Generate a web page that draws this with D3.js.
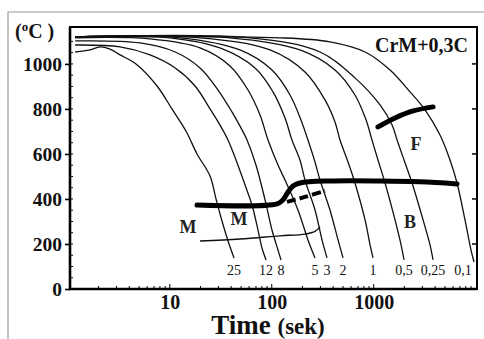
<!DOCTYPE html>
<html><head><meta charset="utf-8">
<script src="https://cdn.jsdelivr.net/npm/d3@7"></script>
<style>
html,body{margin:0;padding:0;background:#fff;}
svg{display:block;}
text{font-family:"Liberation Serif","Times New Roman",serif;}
</style></head>
<body>
<svg id="c" width="484" height="339"></svg>
<script>
// ---- data (time in s, temperature in °C) ----
const rateLabels = ["25","12","8","5","3","2","1","0,5","0,25","0,1"];
const curve25 = [[1.18,1053],[1.65,1062],[2.07,1076],[2.59,1066],[3.25,1040],[4.66,1000],[7.5,902],[10.5,800],[14.4,702],[18.5,600],[24.8,502],[28.4,400],[32.5,302],[38.1,200],[42.7,138]];
const curve12 = [[1.18,1084],[3.25,1076],[6.4,1040],[11.3,982],[17.7,902],[24.8,800],[31,729],[37.2,662],[44.6,573],[54.7,462],[64,373],[73.3,262],[80.2,182],[87.9,129]];
const curve8 = [[1.18,1102],[5.1,1093],[11.3,1053],[19.8,982],[29.7,884],[40.7,787],[51.1,707],[57.2,662],[70,551],[85.9,396],[100.5,262],[115.1,173],[123.3,129]];
const curve5 = [[1.18,1116],[6.4,1111],[19.8,1071],[38.9,991],[58.5,884],[76.7,773],[91.9,662],[115.1,551],[134.9,484],[180.7,351],[226.5,218],[265.5,138]];
const curve3 = [[1.18,1120],[10,1116],[31,1071],[68.5,982],[102.8,876],[134.9,760],[157.8,662],[189.2,573],[211.8,484],[265.5,351],[311.1,218],[348.3,138]];
const curve2 = [[1.18,1120],[12.6,1116],[48.8,1062],[100.5,973],[151,862],[193.3,751],[226.5,662],[265.5,564],[297.2,484],[372.4,351],[446.7,218],[500,138]];
const curve1 = [[1.18,1120],[19.8,1116],[96.2,1062],[211.8,964],[332.7,840],[416.9,742],[466.9,662],[560,564],[654.6,471],[822.2,307],[920.4,196],[984,138]];
const curve05 = [[1.18,1120],[38.9,1116],[189.2,1062],[416.9,973],[654.6,862],[841.4,751],[961.6,662],[1101,573],[1291,471],[1618,307],[1854,196],[1983,129]];
const curve025 = [[1.18,1120],[61.2,1116],[297.2,1053],[654.6,938],[1153,818],[1514,729],[1694,662],[1983,573],[2377,471],[3048,307],[3565,196],[3818,129]];
const curve01 = [[1.18,1120],[120.5,1116],[372.4,1098],[822.2,1053],[1445,973],[2270,876],[3186,796],[4467,684],[5598,573],[6563,471],[7853,307],[8995,173],[9638,120]];
const bainiteStart = [[18.5,373],[112.5,378],[128.9,396],[144.3,431],[161.5,458],[189.2,471],[372.4,480],[1153,480],[2844,476],[6563,467]];
const bainiteEnd = [[141,387],[211.8,409],[332.7,436]];
const martensiteLine = [[19.8,213],[48.8,222],[120.5,236],[211.8,244],[265.5,256],[297.2,276]];
const ferriteStart = [[1101,720],[1618,760],[2432,791],[3818,809]];
const yTicks = [0,200,400,600,800,1000];
const xTicks = [10,100,1000];

const curves = [curve25,curve12,curve8,curve5,curve3,curve2,curve1,curve05,curve025,curve01];

const svg = d3.select("#c");
const L=70,R=477,T=27,B=289;
const x = d3.scaleLog().domain([1.05,10300]).range([L,R]);
const y = d3.scaleLinear().domain([0,1164]).range([B,T]);

// outer gray frame
svg.append("path").attr("d","M8,339 L8,12 L484,12").attr("fill","none").attr("stroke","#9a9a9a").attr("stroke-width",1.2);

const line = d3.line().x(d=>x(d[0])).y(d=>y(d[1])).curve(d3.curveCatmullRom.alpha(0.5));

const g = svg.append("g");
curves.forEach(c=>{
  g.append("path").attr("d",line(c)).attr("fill","none").attr("stroke","#111").attr("stroke-width",1.3);
});
g.append("path").attr("d",line(martensiteLine)).attr("fill","none").attr("stroke","#111").attr("stroke-width",1.4);
g.append("path").attr("d",line(bainiteStart)).attr("fill","none").attr("stroke","#000").attr("stroke-width",5).attr("stroke-linecap","round");
g.append("path").attr("d",line(bainiteEnd)).attr("fill","none").attr("stroke","#000").attr("stroke-width",4).attr("stroke-dasharray","9,4");
g.append("path").attr("d",line(ferriteStart)).attr("fill","none").attr("stroke","#000").attr("stroke-width",5).attr("stroke-linecap","round");

// curve labels
curves.forEach((c,i)=>{
  const last=c[c.length-1];
  const px=Math.min(x(last[0]),463);
  svg.append("text").attr("x",px).attr("y",275).attr("text-anchor","middle")
    .attr("font-size",14).attr("fill","#111").text(rateLabels[i]);
});

// frame
svg.append("rect").attr("x",L).attr("y",T).attr("width",R-L).attr("height",B-T)
  .attr("fill","none").attr("stroke","#000").attr("stroke-width",2);
svg.append("path").attr("d",`M${L},${T} L${L},${B} L${R},${B}`).attr("fill","none").attr("stroke","#000").attr("stroke-width",2.6);

// y axis
const yAx = svg.append("g").attr("transform",`translate(${L},0)`)
  .call(d3.axisLeft(y).tickValues(yTicks).tickFormat(d3.format("d")).tickSize(5).tickPadding(3));
yAx.select(".domain").remove();
yAx.selectAll("line").attr("stroke-width",1.6);
yAx.selectAll("text").attr("font-size",19.5).attr("font-weight","bold").attr("font-family","Liberation Serif, serif").attr("fill","#111");
// minor inner y ticks
d3.range(50,1150,50).forEach(v=>{
  svg.append("line").attr("x1",L).attr("x2",L+3).attr("y1",y(v)).attr("y2",y(v)).attr("stroke","#000").attr("stroke-width",1);
});
// right ticks
yTicks.slice(1).forEach(v=>{
  svg.append("line").attr("x1",R).attr("x2",R-5).attr("y1",y(v)).attr("y2",y(v)).attr("stroke","#000").attr("stroke-width",1.5);
});

// x axis
const xAx = svg.append("g").attr("transform",`translate(0,${B})`)
  .call(d3.axisBottom(x).tickValues(xTicks).tickFormat(d3.format("d")).tickSize(0).tickPadding(6));
xAx.select(".domain").remove();
xAx.selectAll("text").attr("font-size",20).attr("font-weight","bold").attr("font-family","Liberation Serif, serif").attr("fill","#111");
// x ticks (inside)
[1,10,100,1000].forEach(dec=>{
  d3.range(1,10).forEach(m=>{
    const v=dec*m;
    if(v<1.05||v>10300) return;
    const len = m===1?5:3;
    svg.append("line").attr("x1",x(v)).attr("x2",x(v)).attr("y1",B).attr("y2",B-len).attr("stroke","#000").attr("stroke-width",1);
  });
});

// titles
const t1 = svg.append("text").attr("x",15).attr("y",38).attr("font-size",20).attr("font-weight","bold").attr("fill","#111");
t1.append("tspan").text("(");
t1.append("tspan").attr("font-size",13).attr("dy",-7).text("o");
t1.append("tspan").attr("dy",7).text("C )");

svg.append("text").attr("x",468).attr("y",52).attr("text-anchor","end").attr("font-size",20).attr("font-weight","bold").attr("fill","#111").text("CrM+0,3C");

const xl = svg.append("text").attr("x",268).attr("y",334).attr("text-anchor","middle").attr("font-weight","bold").attr("fill","#111");
xl.append("tspan").attr("font-size",27).text("Time ");
xl.append("tspan").attr("font-size",23).text("(sek)");

// region labels
const reg = [["M",188,233],["M",239,225],["F",416,150],["B",410,228]];
reg.forEach(r=>svg.append("text").attr("x",r[1]).attr("y",r[2]).attr("text-anchor","middle").attr("font-size",18).attr("font-weight","bold").attr("fill","#222").text(r[0]));
</script>
</body></html>
